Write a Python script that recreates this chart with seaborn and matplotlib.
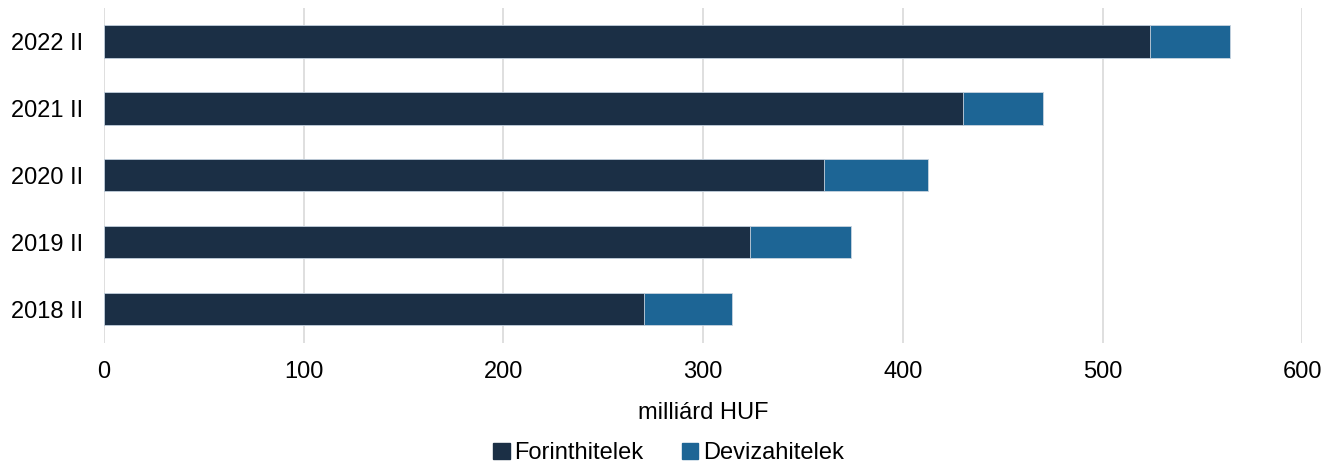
import matplotlib
matplotlib.use('Agg')
import matplotlib.pyplot as plt
import seaborn as sns
import pandas as pd
from matplotlib.patches import Patch

# ── Data ──────────────────────────────────────────────────────────────────────
periods = ['2022 II', '2021 II', '2020 II', '2019 II', '2018 II']
forint = [524, 430, 360.5, 323.5, 270.5]
deviza = [40, 40, 52, 50.5, 44]

DARK = '#1b2f45'
BLUE = '#1d6595'
FS = 17

sns.set_theme(style='white')
plt.rcParams['font.family'] = ['Liberation Sans', 'DejaVu Sans']
plt.rcParams['text.color'] = 'black'

df = pd.DataFrame({'period': periods, 'forint': forint, 'deviza': deviza})
df['total'] = df['forint'] + df['deviza']

fig, ax = plt.subplots(figsize=(13.37, 4.69), dpi=100)
fig.subplots_adjust(left=0.0778, right=0.974, top=0.983, bottom=0.269)

sns.barplot(data=df, y='period', x='total', orient='h', color=BLUE,
            width=0.48, edgecolor='#c8d4e0', linewidth=0.6, saturation=1, ax=ax)
sns.barplot(data=df, y='period', x='forint', orient='h', color=DARK,
            width=0.48, edgecolor='#c8d4e0', linewidth=0.6, saturation=1, ax=ax)

ax.set_xlim(0, 600)
ax.set_xticks(range(0, 601, 100))
ax.xaxis.grid(True, color='#d9d9d9', linewidth=1.2)
ax.set_axisbelow(True)
for s in ax.spines.values():
    s.set_visible(False)
ax.tick_params(axis='both', length=0, labelsize=FS, colors='black')
ax.tick_params(axis='x', pad=13)
ax.tick_params(axis='y', pad=15)
ax.set_ylabel('')
ax.set_xlabel('milliárd HUF', fontsize=FS, labelpad=14, color='black')

handles = [Patch(color=DARK, label='Forinthitelek'), Patch(color=BLUE, label='Devizahitelek')]
fig.legend(handles=handles, loc='lower center', bbox_to_anchor=(0.5, -0.035), ncol=2,
           frameon=False, fontsize=FS, handlelength=0.7, handleheight=0.7,
           handletextpad=0.2, columnspacing=1.6, labelcolor='black')

plt.savefig('out.png', dpi=100)
plt.close()
